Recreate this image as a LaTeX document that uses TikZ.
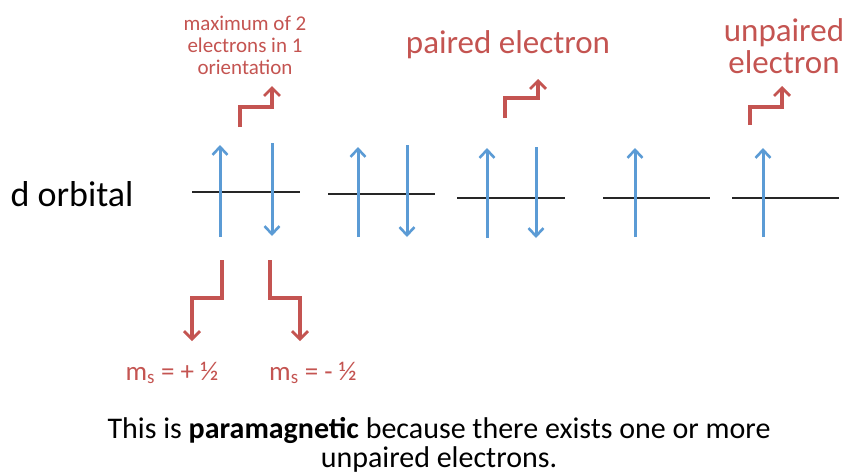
\documentclass[tikz,border=0pt]{standalone}
\usepackage{fontspec}
\setmainfont{Carlito}
\usetikzlibrary{arrows.meta}
\definecolor{eblue}{RGB}{91,155,213}
\definecolor{ered}{RGB}{196,84,81}
\begin{document}
\begin{tikzpicture}[x=1pt,y=-1pt,
  level/.style={line width=2.2pt, black!85},
  spin/.style={eblue, line width=3pt, -{Straight Barb[length=8pt,width=15pt,line width=2.6pt]}},
  callout/.style={ered, line width=3.2pt, -{Straight Barb[length=8pt,width=16pt,line width=2.8pt]}},
  redtxt/.style={ered, inner sep=0pt, align=center},
  blacktxt/.style={black, inner sep=0pt, align=center}
]
\useasboundingbox (0,0) rectangle (846,475);

% orbital levels
\coordinate (l1a) at (192,192); \coordinate (l1b) at (300,192);
\coordinate (l2a) at (328,194); \coordinate (l2b) at (435,194);
\coordinate (l3a) at (457,198); \coordinate (l3b) at (565,198);
\coordinate (l4a) at (603,198); \coordinate (l4b) at (710,198);
\coordinate (l5a) at (732,198); \coordinate (l5b) at (839,198);
\foreach \i in {1,...,5} \draw[level] (l\i a) -- (l\i b);

% spins
\coordinate (u1s) at (220,237); \coordinate (u1e) at (220,145);
\coordinate (d1s) at (272,143); \coordinate (d1e) at (272,236);
\coordinate (u2s) at (358,237); \coordinate (u2e) at (358,147);
\coordinate (d2s) at (407,145); \coordinate (d2e) at (407,237);
\coordinate (u3s) at (487,238); \coordinate (u3e) at (487,148);
\coordinate (d3s) at (536,147); \coordinate (d3e) at (536,238);
\coordinate (u4s) at (635,237); \coordinate (u4e) at (635,148);
\coordinate (u5s) at (763,237); \coordinate (u5e) at (763,148);
\draw[spin] (u1s) -- (u1e);
\draw[spin] (d1s) -- (d1e);
\draw[spin] (u2s) -- (u2e);
\draw[spin] (d2s) -- (d2e);
\draw[spin] (u3s) -- (u3e);
\draw[spin] (d3s) -- (d3e);
\draw[spin] (u4s) -- (u4e);
\draw[spin] (u5s) -- (u5e);

% labels
\node[blacktxt, font=\fontsize{36}{40}\selectfont] (dorb) at (72,194) {d orbital};
\node[redtxt, font=\fontsize{21}{22}\selectfont] (maxtxt) at (245,45) {maximum of 2\\electrons in 1\\orientation};
\node[redtxt, font=\fontsize{33}{36}\selectfont] (paired) at (508,45) {paired electron};
\node[redtxt, font=\fontsize{33}{32}\selectfont] (unpaired) at (784,46) {unpaired\\electron};
\node[redtxt, font=\fontsize{27}{30}\selectfont] (msp) at (172,373) {m\textsubscript{s} = + ½};
\node[redtxt, font=\fontsize{27}{30}\selectfont] (msm) at (313,373) {m\textsubscript{s} = - ½};
\node[blacktxt, font=\fontsize{30}{29}\selectfont] (concl) at (439,445) {This is \textbf{paramagnetic} because there exists one or more\\unpaired electrons.};

% red callout arrows
\coordinate (c1s) at (240,127); \coordinate (c1e) at (272,86);
\draw[callout] (c1s) |- ++(16,-20) -| (c1e);
\coordinate (c2s) at (505,118); \coordinate (c2e) at (538,79);
\draw[callout] (c2s) |- ++(16,-20) -| (c2e);
\coordinate (c3s) at (750,125); \coordinate (c3e) at (782,86);
\draw[callout] (c3s) |- ++(16,-18) -| (c3e);
\coordinate (c4s) at (222,260); \coordinate (c4e) at (192,341);
\draw[callout] (c4s) |- ++(-15,38) -| (c4e);
\coordinate (c5s) at (270,260); \coordinate (c5e) at (300,341);
\draw[callout] (c5s) |- ++(15,38) -| (c5e);
\end{tikzpicture}
\end{document}
